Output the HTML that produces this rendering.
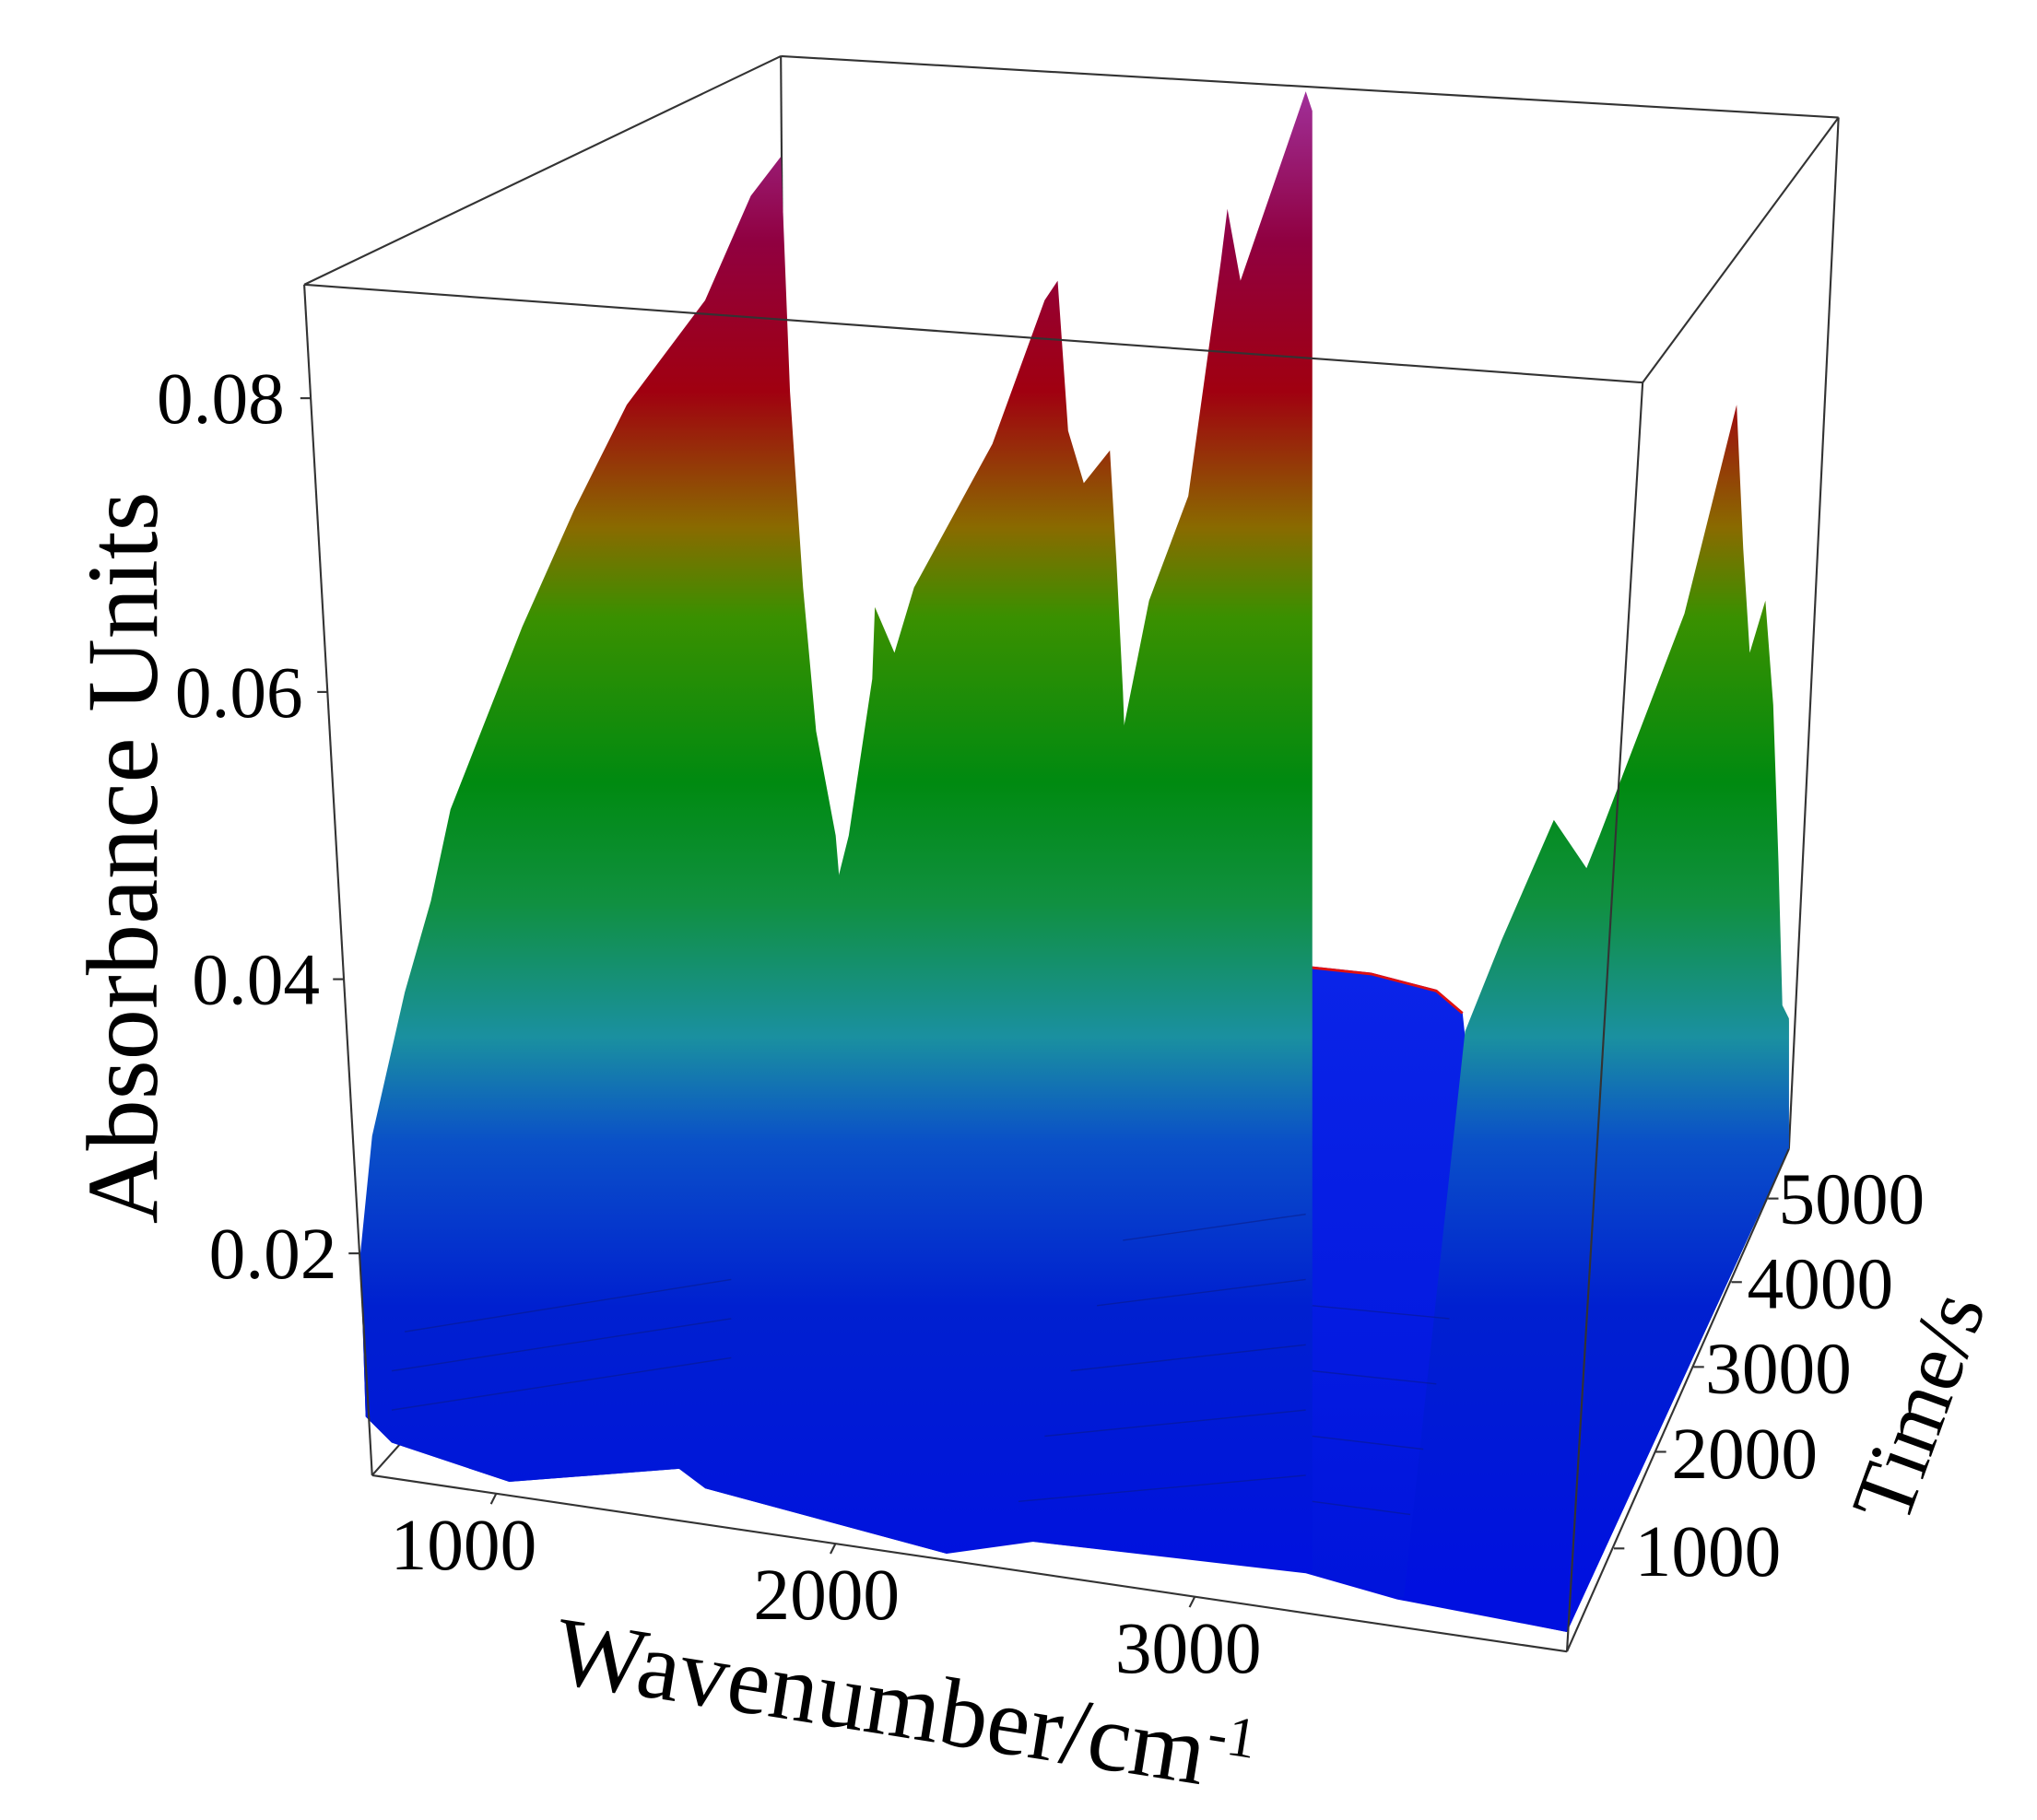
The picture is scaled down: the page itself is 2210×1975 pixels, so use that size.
<!DOCTYPE html>
<html><head><meta charset="utf-8"><style>
html,body{margin:0;padding:0;background:#fff;}
svg{display:block;}
text{font-family:"Liberation Serif",serif;fill:#000;}
</style></head><body>
<svg width="2210" height="1975" viewBox="0 0 1560 1394" preserveAspectRatio="none" xmlns="http://www.w3.org/2000/svg">
<defs>
<linearGradient id="g" gradientUnits="userSpaceOnUse" x1="0" y1="1220" x2="0" y2="70">
<stop offset="0" stop-color="#0010e0"/>
<stop offset="0.19" stop-color="#0020d0"/>
<stop offset="0.30" stop-color="#0a50c8"/>
<stop offset="0.37" stop-color="#1a90a0"/>
<stop offset="0.46" stop-color="#109040"/>
<stop offset="0.54" stop-color="#008a10"/>
<stop offset="0.65" stop-color="#3a9000"/>
<stop offset="0.71" stop-color="#8a6a00"/>
<stop offset="0.8" stop-color="#a00010"/>
<stop offset="0.9" stop-color="#900040"/>
<stop offset="1" stop-color="#a0309a"/>
</linearGradient>
<linearGradient id="gb" gradientUnits="userSpaceOnUse" x1="0" y1="1220" x2="0" y2="740">
<stop offset="0" stop-color="#0014dc"/>
<stop offset="1" stop-color="#0a24e8"/>
</linearGradient>
</defs>
<g stroke="#333" stroke-width="1.5" fill="none">
<line x1="598" y1="43" x2="1408" y2="90"/>
<line x1="233" y1="218" x2="598" y2="43"/>
<line x1="1258" y1="293" x2="1408" y2="90"/>
<line x1="1408" y1="90" x2="1370" y2="880"/>
<line x1="598" y1="43" x2="600" y2="300"/>
<line x1="285" y1="1130" x2="310" y2="1102"/>
<line x1="1370" y1="880" x2="1335" y2="872"/>
</g>
<polygon fill="url(#g)" points="276,960 300,900 500,880 700,860 1000,860 1365,840 1370,780 1370,880 1200,1250 1070,1225 1000,1205 740,1175 725,1190 540,1140 520,1125 390,1135 300,1105 280,1085"/>
<polygon fill="url(#g)" points="276,960 285,870 310,760 330,690 345,620 400,480 440,390 480,310 540,230 575,150 598,120 605,300 615,450 625,560 640,640 645,700 640,1120 520,1125 390,1135 300,1105 280,1085"/>
<polygon fill="url(#g)" points="545,1135 580,930 620,760 650,640 668,520 670,465 685,500 700,450 760,340 800,230 810,215 818,330 830,370 850,345 855,430 860,530 870,800 870,1170 725,1190 540,1140"/>
<polygon fill="url(#gb)" points="1003,740 1050,745 1100,758 1120,775 1130,870 1080,1225 1003,1205"/>
<polyline fill="none" points="1003,741 1050,746 1100,759 1120,776" stroke="#e01010" stroke-width="2"/>
<polygon fill="url(#g)" points="740,1180 780,880 820,720 860,560 880,460 910,380 935,200 940,160 950,215 1000,70 1005,85 1005,740 1005,1205 740,1175"/>
<polygon fill="url(#g)" points="1075,1225 1110,900 1122,790 1150,720 1190,628 1215,665 1225,640 1290,470 1330,310 1335,420 1340,500 1352,460 1358,540 1362,660 1365,770 1370,780 1370,880 1200,1250"/>
<g stroke="#0a1a80" stroke-width="1" opacity="0.5" fill="none">
<path d="M300,1080 L560,1040"/><path d="M300,1050 L560,1010"/><path d="M310,1020 L560,980"/>
<path d="M780,1150 L1000,1130"/><path d="M800,1100 L1000,1080"/><path d="M820,1050 L1000,1030"/><path d="M840,1000 L1000,980"/><path d="M860,950 L1000,930"/>
<path d="M1005,1150 L1080,1160"/><path d="M1005,1100 L1090,1110"/><path d="M1005,1050 L1100,1060"/><path d="M1005,1000 L1110,1010"/>
</g>
<g stroke="#333" stroke-width="1.5" fill="none">
<line x1="233" y1="218" x2="1258" y2="293"/>
<line x1="233" y1="218" x2="285" y2="1130"/>
<line x1="1258" y1="293" x2="1200" y2="1265"/>
<line x1="285" y1="1130" x2="1200" y2="1265"/>
<line x1="1200" y1="1265" x2="1370" y2="880"/>
<line x1="238" y1="305" x2="230" y2="305"/>
<line x1="251" y1="530" x2="243" y2="530"/>
<line x1="263" y1="750" x2="255" y2="750"/>
<line x1="275" y1="960" x2="267" y2="960"/>
<line x1="380" y1="1144" x2="376" y2="1152"/>
<line x1="640" y1="1182" x2="636" y2="1190"/>
<line x1="915" y1="1223" x2="911" y2="1231"/>
<line x1="1354" y1="918" x2="1362" y2="918"/>
<line x1="1326" y1="982" x2="1334" y2="982"/>
<line x1="1297" y1="1047" x2="1305" y2="1047"/>
<line x1="1268" y1="1112" x2="1276" y2="1112"/>
<line x1="1236" y1="1186" x2="1244" y2="1186"/>
</g>
<g font-size="56" text-anchor="end">
<text x="218" y="324">0.08</text>
<text x="232" y="549">0.06</text>
<text x="245" y="769">0.04</text>
<text x="258" y="979">0.02</text>
</g>
<g font-size="56" text-anchor="middle">
<text x="355" y="1202">1000</text>
<text x="633" y="1240">2000</text>
<text x="910" y="1281">3000</text>
</g>
<g font-size="56" text-anchor="start">
<text x="1362" y="937">5000</text>
<text x="1338" y="1002">4000</text>
<text x="1306" y="1067">3000</text>
<text x="1280" y="1132">2000</text>
<text x="1252" y="1207">1000</text>
</g>
<text font-size="78" text-anchor="middle" transform="translate(120,657) rotate(-90)">Absorbance Units</text>
<text font-size="74" transform="translate(422,1288) rotate(9)">Wavenumber/cm<tspan font-size="44" dy="-26">-1</tspan></text>
<text font-size="66" text-anchor="middle" transform="translate(1490,1085) rotate(-70)">Time/s</text>
</svg>
</body></html>
